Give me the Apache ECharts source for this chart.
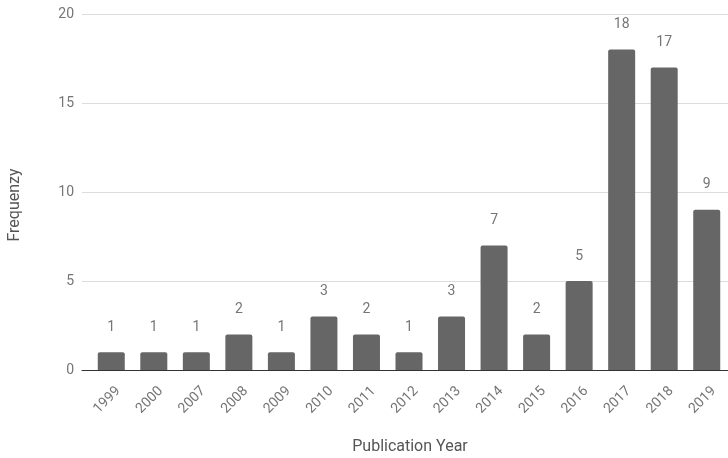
<!DOCTYPE html>
<html>
<head>
<meta charset="utf-8">
<script src="https://cdn.jsdelivr.net/npm/echarts@6/dist/echarts.min.js"></script>
<style>html,body{margin:0;padding:0;background:#fff;}#c{width:728px;height:458px;}</style>
</head>
<body>
<div id="c"></div>
<script>
const categories = ['1999','2000','2007','2008','2009','2010','2011','2012','2013','2014','2015','2016','2017','2018','2019'];
const frequency = [1,1,1,2,1,3,2,1,3,7,2,5,18,17,9];
const yTicks = [0,5,10,15,20];

const chart = echarts.init(document.getElementById('c'), null, {renderer:'canvas'});
const font = 'Roboto, "Noto Sans", sans-serif';
chart.setOption({
  animation: false,
  grid: [
    {left: 82, right: 0, top: 14, bottom: 88},
    {left: 90, width: 640, top: 14, bottom: 88}
  ],
  xAxis: [
    {type: 'value', gridIndex: 0, min: 0, max: 1, show: true,
     axisLabel: {show: false}, axisTick: {show: false}, splitLine: {show: false},
     axisLine: {show: true, onZero: false, lineStyle: {color: '#333', width: 1}}},
    {type: 'category', gridIndex: 1, data: categories,
     axisLine: {show: false}, axisTick: {show: false},
     axisLabel: {rotate: 45, margin: 12, verticalAlign: 'top', padding: [3, 0, 0, 0],
                 color: '#757575', fontSize: 14, fontFamily: font, interval: 0}}
  ],
  yAxis: [
    {type: 'value', gridIndex: 0, min: yTicks[0], max: yTicks[yTicks.length-1], interval: 5,
     axisLine: {show: false}, axisTick: {show: false},
     axisLabel: {margin: 8, color: '#757575', fontSize: 14, fontFamily: font},
     splitLine: {lineStyle: {color: '#dcdcdc', width: 1}}},
    {type: 'value', gridIndex: 1, min: 0, max: 20, interval: 5, show: false}
  ],
  series: [{
    type: 'bar', xAxisIndex: 1, yAxisIndex: 1, data: frequency,
    barWidth: 27,
    itemStyle: {color: '#666666', borderRadius: [2,2,0,0]},
    label: {show: true, position: 'top', distance: 18, color: '#757575', fontSize: 14, fontFamily: font}
  }],
  graphic: [
    {type: 'text', x: 15, y: 205, rotation: Math.PI/2,
     style: {text: 'Frequenzy', fill: '#555', font: '16px ' + font, align: 'center', verticalAlign: 'middle'}},
    {type: 'text', x: 410, y: 447,
     style: {text: 'Publication Year', fill: '#555', font: '16px ' + font, align: 'center', verticalAlign: 'middle'}}
  ]
});
</script>
</body>
</html>
